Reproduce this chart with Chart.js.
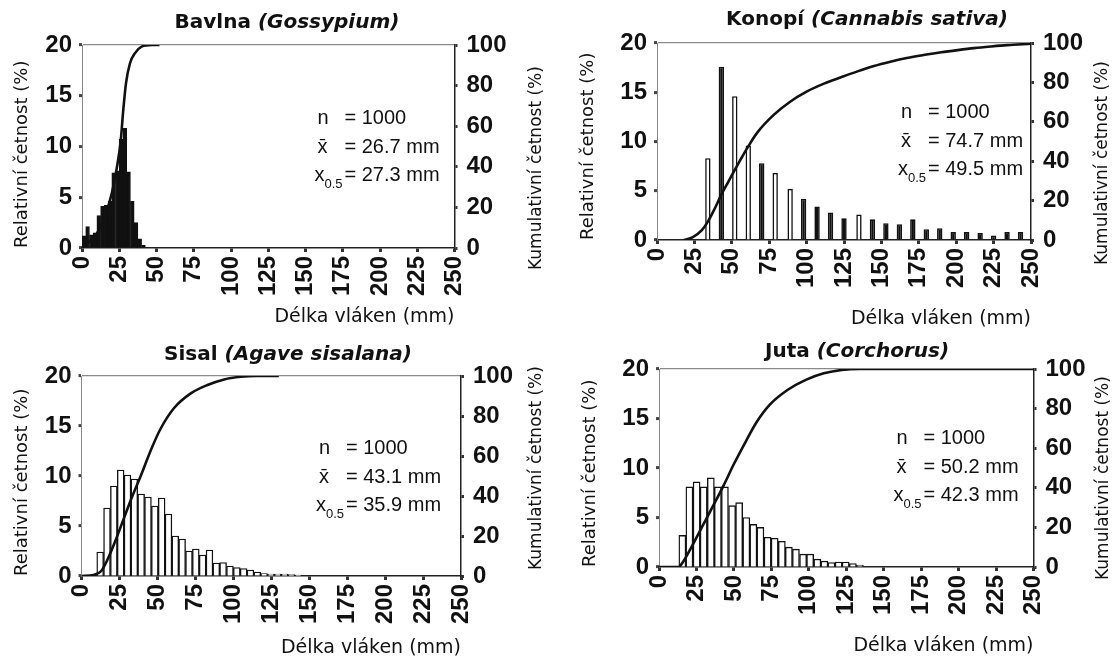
<!DOCTYPE html>
<html>
<head>
<meta charset="utf-8">
<script src="https://cdn.jsdelivr.net/npm/chart.js@4.4.1/dist/chart.umd.min.js"></script>
<style>
	html, body { margin: 0; padding: 0; background: #fff; }
	#wrap { position: relative; width: 1115px; height: 659px; overflow: hidden; }
	.panel { position: absolute; }
</style>
</head>
<body>
<div id="wrap">
	<div class="panel" style="left:0;top:0"><canvas id="bavlna" width="557" height="330"></canvas></div>
	<div class="panel" style="left:557px;top:0"><canvas id="konopi" width="558" height="330"></canvas></div>
	<div class="panel" style="left:0;top:330px"><canvas id="sisal" width="557" height="329"></canvas></div>
	<div class="panel" style="left:557px;top:330px"><canvas id="juta" width="558" height="329"></canvas></div>
</div>
<script>
// Tick values shared by all four panels
var lengthTicks = [0, 25, 50, 75, 100, 125, 150, 175, 200, 225, 250];
var relTicks = [0, 5, 10, 15, 20];
var cumTicks = [0, 10, 20, 30, 40, 50, 60, 70, 80, 90, 100];
var cumLabels = [0, 20, 40, 60, 80, 100];

// Panel titles and statistics
var fibreNames = ['Bavlna', 'Konopí', 'Sisal', 'Juta'];
var latinNames = ['(Gossypium)', '(Cannabis sativa)', '(Agave sisalana)', '(Corchorus)'];
var statN = ['1000', '1000', '1000', '1000'];
var statMean = ['26.7', '74.7', '43.1', '50.2'];
var statMedian = ['27.3', '49.5', '35.9', '42.3'];

// Bavlna (Gossypium)
var bavlnaBinX = [1.25, 3.75, 6.25, 8.75, 11.25, 13.75, 16.25, 18.75, 21.25, 23.75, 26.25, 28.75, 31.25, 33.75, 36.25, 38.75, 41.25];
var bavlnaRel = [1.2, 2.1, 1.3, 1.5, 3.2, 4.1, 4.2, 4.6, 7.4, 7.6, 10.7, 11.8, 7.5, 4.6, 2.5, 0.9, 0.3];
var bavlnaCumX = [0, 3, 8, 12, 16, 20, 23.5, 26, 27.7, 29.5, 32.2, 35.6, 40, 47, 52];
var bavlnaCum = [0, 2, 5, 10, 17, 27, 40, 53, 68, 81, 91, 96, 99.2, 100, 100];

// Konopí (Cannabis sativa)
var konopiBinX = [34, 43, 52, 61, 70, 79, 89, 98, 107, 116, 125, 135, 144, 153, 162, 171, 180, 189, 198, 207, 216, 225, 234, 243];
var konopiRel = [8.3, 17.6, 14.6, 9.6, 7.8, 6.8, 5.2, 4.2, 3.4, 2.8, 2.2, 2.6, 2.1, 1.7, 1.6, 2.1, 1.1, 1.2, 0.8, 0.8, 0.7, 0.45, 0.8, 0.8];
var konopiCumX = [18, 24, 30, 34, 38, 43, 48, 52, 56, 61, 67, 78, 89, 100, 112, 123, 134, 145, 156, 167, 179, 190, 201, 212, 223, 234, 250];
var konopiCum = [0, 1.5, 5, 9.3, 15, 23, 30, 35.6, 41, 47.5, 54.5, 63.5, 70.2, 75.3, 79.5, 82.6, 85.6, 88.3, 90.5, 92.4, 94, 95.3, 96.4, 97.4, 98.2, 98.9, 99.6];
var konopiBarColors = ['#fff', '#111', '#fff', '#fff', '#111', '#fff', '#fff', '#111', '#111', '#111', '#111', '#fff',
	'#111', '#111', '#111', '#111', '#111', '#111', '#111', '#111', '#111', '#111', '#111', '#111'];

// Sisal (Agave sisalana)
var sisalBinX = [12.3, 16.8, 21.3, 25.8, 30.3, 34.8, 39.3, 43.8, 48.3, 52.8, 57.3, 61.8, 66.3, 70.8, 75.3, 79.8, 84.3, 88.8, 93.3, 97.8,
	102.3, 106.8, 111.3, 115.8, 120.3, 124.8, 129.3, 133.8, 138.3, 142.8];
var sisalRel = [2.4, 6.8, 9.0, 10.6, 10.1, 9.7, 8.2, 7.9, 7.0, 7.8, 6.2, 4.0, 3.7, 2.5, 2.7, 2.1, 2.6, 1.3, 1.35, 1.0,
	0.85, 0.75, 0.6, 0.4, 0.25, 0.2, 0.2, 0.2, 0.15, 0.1];
var sisalCumX = [0, 8, 13, 17, 22, 28, 33, 39, 46, 52, 61, 72, 83, 94, 105, 115, 130];
var sisalCum = [0, 0.5, 2.5, 8, 17, 29, 39, 50, 63.5, 73.5, 84, 91.3, 95.5, 98.3, 99.6, 100, 100];

// Juta (Corchorus)
var jutaBinX = [15.6, 20.3, 25.1, 29.8, 34.6, 39.3, 44.0, 48.8, 53.5, 58.3, 63.0, 67.7, 72.5, 77.2, 82.0, 86.7, 91.4, 96.2, 100.9,
	105.7, 110.4, 115.1, 119.9, 124.6, 129.4, 134.1];
var jutaRel = [3.2, 8.1, 8.6, 8.1, 9.0, 8.1, 8.1, 6.2, 6.5, 5.0, 4.3, 4.0, 3.0, 2.9, 2.6, 2.0, 1.8, 1.3, 1.3, 0.8, 0.6, 0.45, 0.5, 0.5, 0.35, 0.2];
var jutaCumX = [0, 13, 16, 22, 29, 36, 43, 50, 58, 65, 74, 86, 98, 110, 122, 134, 250];
var jutaCum = [0, 0, 2.5, 10.5, 20.6, 30.7, 41, 52, 63.5, 73, 82, 89.5, 94.5, 97.8, 99.5, 100, 100];

var INK = '#111';
var SANS = '"Liberation Sans", Arial, sans-serif';
var DEJAVU = '"DejaVu Sans", Verdana, sans-serif';

function toPoints(xs, ys) {
	return xs.map(function(x, i) { return { x: x, y: ys[i] }; });
}

function fixedTicks(values) {
	return function(scale) {
		scale.ticks = values.map(function(v) { return { value: v }; });
	};
}

// Draws the panel title (bold + bold italic), the statistics and the right axis title
var panelText = {
	id: 'panelText',
	afterDraw: function(chart, args, o) {
		var ctx = chart.ctx, a = chart.chartArea;
		ctx.save();
		ctx.fillStyle = INK;
		ctx.textBaseline = 'middle';
		ctx.textAlign = 'left';

		var boldFont = 'bold 20px ' + DEJAVU;
		var italicFont = 'italic bold 20px ' + DEJAVU;
		ctx.font = boldFont;
		var w1 = ctx.measureText(fibreNames[o.idx] + ' ').width;
		ctx.font = italicFont;
		var w2 = ctx.measureText(latinNames[o.idx]).width;
		var x0 = o.titleX - (w1 + w2) / 2;
		ctx.font = boldFont;
		ctx.fillText(fibreNames[o.idx] + ' ', x0, o.titleY);
		ctx.font = italicFont;
		ctx.fillText(latinNames[o.idx], x0 + w1, o.titleY);

		var eqX = a.right - o.statsRight;
		var labX = eqX - 27;
		var y0 = a.top + o.statsTop;
		ctx.font = '20px ' + SANS;
		ctx.fillText('n', labX, y0);
		ctx.fillText('= ' + statN[o.idx], eqX, y0);
		ctx.fillText('x\u0304', labX, y0 + 29);
		ctx.fillText('= ' + statMean[o.idx] + ' mm', eqX, y0 + 29);
		ctx.fillText('x', labX - 3, y0 + 57);
		ctx.fillText('= ' + statMedian[o.idx] + ' mm', eqX, y0 + 57);
		ctx.font = '13px ' + SANS;
		ctx.fillText('0.5', labX + 7, y0 + 66);

		ctx.translate(o.cumTitleX, o.cumTitleY);
		ctx.rotate(-Math.PI / 2);
		ctx.font = '17px ' + DEJAVU;
		ctx.fillText('Kumulativní četnost (%)', 0, 0);
		ctx.restore();
	}
};

function buildPanel(id, g, barSet, linePoints) {
	var canvas = document.getElementById(id);
	var W = canvas.width, H = canvas.height;
	var tickFont = { family: SANS, size: 24, weight: 'bold' };

	return new Chart(canvas, {
		type: 'bar',
		data: {
			datasets: [
				{
					type: 'line',
					data: linePoints,
					yAxisID: 'y2',
					borderColor: INK,
					borderWidth: 2.6,
					pointRadius: 0,
					fill: false,
					cubicInterpolationMode: 'monotone',
					order: 0
				},
				Object.assign({
					data: barSet.data,
					yAxisID: 'y',
					borderColor: INK,
					categoryPercentage: 1,
					order: 1
				}, barSet.style)
			]
		},
		options: {
			responsive: false,
			animation: false,
			events: [],
			layout: { padding: { top: g.top, left: 0, right: 0, bottom: 0 } },
			plugins: {
				legend: { display: false },
				tooltip: { enabled: false },
				panelText: g.text
			},
			scales: {
				x: {
					type: 'linear',
					min: 0,
					max: 250,
					offset: false,
					afterBuildTicks: fixedTicks(lengthTicks),
					afterFit: function(s) { s.height = H - g.bottom; },
					ticks: { autoSkip: false, minRotation: 90, maxRotation: 90, padding: 4, color: INK, font: tickFont },
					grid: { drawOnChartArea: false, offset: false, tickLength: 4, tickWidth: 3, tickColor: '#333' },
					border: { color: '#222', width: 1.5 },
					title: {
						display: true, text: 'Délka vláken (mm)', align: 'end', color: INK,
						font: { family: DEJAVU, size: 19 }, padding: { top: 0, bottom: g.xTitlePad }
					}
				},
				y: {
					position: 'left',
					min: 0,
					max: 20,
					afterBuildTicks: fixedTicks(relTicks),
					afterFit: function(s) { s.width = g.left; },
					ticks: { padding: 7, color: INK, font: tickFont },
					grid: {
						color: function(c) { return c.tick && c.tick.value === 20 ? '#8a8a8a' : 'rgba(0,0,0,0)'; },
						lineWidth: 1.2,
						tickLength: 3,
						tickWidth: 3,
						tickColor: '#444'
					},
					border: { color: '#888', width: 1 },
					title: {
						display: true, text: 'Relativní četnost (%)', align: 'start', color: INK,
						font: { family: DEJAVU, size: 18 }, padding: { top: g.yTitlePad, bottom: 0 }
					}
				},
				y2: {
					position: 'right',
					min: 0,
					max: 100,
					afterBuildTicks: fixedTicks(cumTicks),
					afterFit: function(s) { s.width = W - g.right; },
					ticks: {
						padding: 9, color: INK, font: tickFont,
						callback: function(v) { return cumLabels.indexOf(v) >= 0 ? v : ''; }
					},
					grid: { drawOnChartArea: false, tickLength: 3, tickWidth: 3, tickColor: '#333' },
					border: { color: '#222', width: 1.5 }
				}
			}
		},
		plugins: [panelText]
	});
}

buildPanel('bavlna',
	{ left: 82, right: 454.5, top: 45, bottom: 248, xTitlePad: 2, yTitlePad: 12,
	  text: { idx: 0, titleX: 287, titleY: 23, statsRight: 110, statsTop: 73, cumTitleX: 537, cumTitleY: 270 } },
	{ data: toPoints(bavlnaBinX, bavlnaRel), style: { backgroundColor: INK, borderWidth: 1, barPercentage: 1 } },
	toPoints(bavlnaCumX, bavlnaCum));

buildPanel('konopi',
	{ left: 100, right: 474, top: 43, bottom: 240, xTitlePad: 0, yTitlePad: 21,
	  text: { idx: 1, titleX: 310, titleY: 20, statsRight: 103, statsTop: 69, cumTitleX: 546, cumTitleY: 265 } },
	{ data: toPoints(konopiBinX, konopiRel), style: { backgroundColor: konopiBarColors, borderWidth: 1.6, barPercentage: 0.4 } },
	toPoints(konopiCumX, konopiCum));

buildPanel('sisal',
	{ left: 81.5, right: 461, top: 46, bottom: 246, xTitlePad: 0, yTitlePad: 12,
	  text: { idx: 2, titleX: 288, titleY: 25, statsRight: 115, statsTop: 72, cumTitleX: 537, cumTitleY: 240 } },
	{ data: toPoints(sisalBinX, sisalRel), style: { backgroundColor: '#fff', borderWidth: 1.4, barPercentage: 1 } },
	toPoints(sisalCumX, sisalCum));

buildPanel('juta',
	{ left: 102, right: 476.5, top: 39, bottom: 237, xTitlePad: 2, yTitlePad: 23,
	  text: { idx: 3, titleX: 300, titleY: 22, statsRight: 110, statsTop: 69, cumTitleX: 547, cumTitleY: 250 } },
	{ data: toPoints(jutaBinX, jutaRel), style: { backgroundColor: '#fff', borderWidth: 1.4, barPercentage: 1 } },
	toPoints(jutaCumX, jutaCum));
</script>
</body>
</html>
